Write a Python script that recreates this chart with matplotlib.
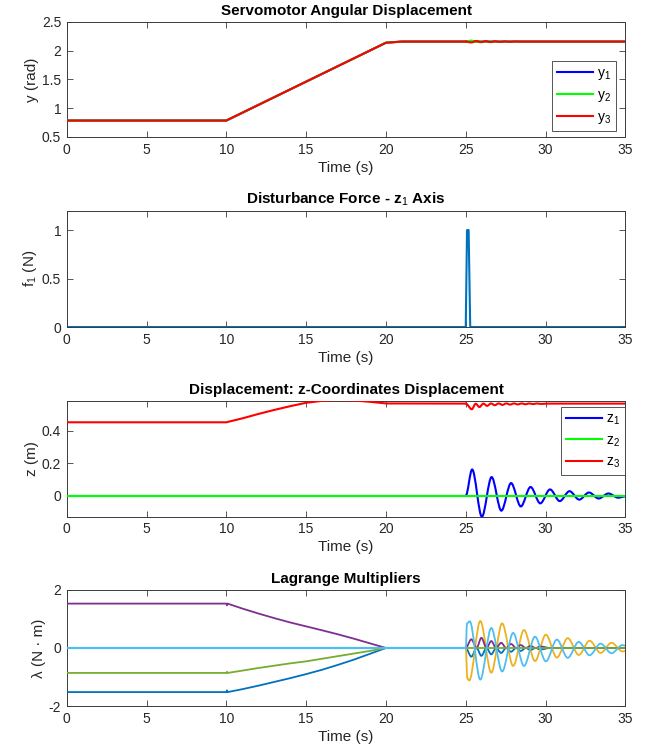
import matplotlib
matplotlib.use("Agg")
import matplotlib.pyplot as plt
from matplotlib.path import Path
from matplotlib.patches import PathPatch
from matplotlib.ticker import FuncFormatter

plt.rcParams['font.family'] = ['Liberation Sans', 'DejaVu Sans']
plt.rcParams['axes.unicode_minus'] = False
plt.rcParams['mathtext.fontset'] = 'custom'
plt.rcParams['mathtext.rm'] = 'Liberation Sans'
plt.rcParams['mathtext.it'] = 'Liberation Sans'
plt.rcParams['mathtext.bf'] = 'Liberation Sans:bold'

# ---------------- data ----------------
# Panel 1: servomotor angles (piecewise points)
y_t = [0, 10, 20, 21, 25, 35]
y1_v = [0.785, 0.785, 2.135, 2.155, 2.155, 2.155]
y2_v = [0.785, 0.785, 2.135, 2.155, 2.155, 2.155]
y3_v = [0.785, 0.785, 2.135, 2.155, 2.155, 2.155]
# small ripple of y2 / y3 after the disturbance (extrema)
y2_osc_t = [25.0, 25.35, 25.65, 26.0]
y2_osc_v = [2.155, 2.172, 2.150, 2.155]
y3_osc_t = [25.0, 25.35, 25.65, 25.95, 26.25, 26.55, 26.85, 27.15, 27.45, 27.75, 28.05, 28.5, 35.0]
y3_osc_v = [2.155, 2.140, 2.165, 2.145, 2.163, 2.147, 2.161, 2.149, 2.159, 2.151, 2.157, 2.155, 2.155]

# Panel 2: disturbance force
f_t = [0, 25.0, 25.08, 25.18, 25.28, 35]
f_v = [0, 0, 1.0, 1.0, 0, 0]

# Panel 3: z coordinates
z_flat_t = [0, 25.0]
z1_flat_v = [0.0, 0.0]
z1_osc_t = [25.0, 25.40, 26.01, 26.62, 27.23, 27.84, 28.45, 29.06, 29.67, 30.28,
            30.89, 31.50, 32.11, 32.72, 33.33, 33.94, 34.55, 35.0]
z1_osc_v = [0.0, 0.162, -0.129, 0.115, -0.092, 0.078, -0.066, 0.054, -0.047, 0.039,
            -0.033, 0.028, -0.024, 0.020, -0.017, 0.014, -0.012, -0.004]
z2_t = [0, 35]
z2_v = [0.0, 0.0]
z3_t = [0, 10, 11, 12, 13, 14, 15, 16, 17, 18, 19, 20, 25.0]
z3_v = [0.452, 0.452, 0.476, 0.503, 0.528, 0.551, 0.572, 0.584, 0.589, 0.586, 0.578, 0.568, 0.567]
z3_osc_t = [25.0, 25.38, 25.62, 25.86, 26.1, 26.34, 26.58, 26.82, 27.06, 27.3, 27.54, 27.78,
            28.02, 28.26, 28.5, 28.74, 28.98, 29.22, 29.46, 29.7, 30.2, 35.0]
z3_osc_v = [0.567, 0.532, 0.566, 0.546, 0.567, 0.553, 0.568, 0.557, 0.568, 0.559, 0.568, 0.561,
            0.568, 0.562, 0.568, 0.563, 0.568, 0.564, 0.568, 0.565, 0.567, 0.567]

# Panel 4: Lagrange multipliers
lam_t = [0, 10, 10.04, 10.08, 11, 12, 13, 14, 15, 16, 17, 18, 19, 20, 25.0]
lam1_v = [-1.52, -1.52, -1.46, -1.52, -1.42, -1.30, -1.17, -1.04, -0.90, -0.75, -0.58, -0.40, -0.20, 0.0, 0.0]
lam4_v = [1.53, 1.53, 1.47, 1.53, 1.36, 1.19, 1.03, 0.88, 0.745, 0.61, 0.47, 0.32, 0.16, 0.0, 0.0]
lam5_v = [-0.86, -0.86, -0.82, -0.86, -0.78, -0.69, -0.61, -0.53, -0.46, -0.37, -0.28, -0.19, -0.10, 0.0, 0.0]
lam_zero_t = [0, 25.0]
lam_zero_v = [0.0, 0.0]
# oscillations after t = 25 s (extrema)
lam1_osc_t = [25.0, 25.35, 25.68, 25.98, 26.3, 26.6, 26.9, 27.22, 27.53, 27.84, 28.15, 28.45,
              28.76, 29.06, 29.37, 29.67, 30.3, 35.0]
lam1_osc_v = [0.0, -0.30, 0.0, -0.27, 0.0, -0.22, 0.0, -0.17, 0.0, -0.13, 0.0, -0.10,
              0.0, -0.07, 0.0, -0.05, 0.0, 0.0]
lam4_osc_t = lam1_osc_t
lam4_osc_v = [0.0, 0.30, 0.0, 0.35, 0.0, 0.24, 0.0, 0.18, 0.0, 0.14, 0.0, 0.10,
              0.0, 0.07, 0.0, 0.05, 0.0, 0.0]
lam5_osc_t = [25.0, 35.0]
lam5_osc_v = [0.0, 0.0]
lam3_osc_t = [25.0, 25.1, 25.22, 25.91, 26.6, 27.28, 27.97, 28.65, 29.34, 30.02, 30.71,
              31.39, 32.08, 32.76, 33.45, 34.13, 34.82, 35.0]
lam3_osc_v = [0.0, -1.05, -1.12, 0.93, -0.85, 0.85, -0.62, 0.62, -0.45, 0.46, -0.33,
              0.34, -0.24, 0.25, -0.17, 0.18, -0.12, -0.10]
lam6_osc_t = [25.0, 25.08, 25.25, 25.91, 26.6, 27.28, 27.97, 28.65, 29.34, 30.02, 30.71,
              31.39, 32.08, 32.76, 33.45, 34.13, 34.82, 35.0]
lam6_osc_v = [0.0, 0.85, 0.92, -1.09, 0.69, -0.81, 0.52, -0.62, 0.39, -0.46, 0.29,
              -0.34, 0.21, -0.25, 0.15, -0.18, 0.10, 0.08]

# ---------------- styling ----------------
C_BLUE = (0.0, 0.447, 0.741)
C_ORANGE = (0.85, 0.325, 0.098)
C_YELLOW = (0.929, 0.694, 0.125)
C_PURPLE = (0.494, 0.184, 0.556)
C_GREEN = (0.466, 0.674, 0.188)
C_LBLUE = (0.301, 0.745, 0.933)
AX_COL = '#3a3a3a'

def smooth(ax, t, v, color, lw, z):
    verts = [(t[0], v[0])]
    codes = [Path.MOVETO]
    for i in range(len(t) - 1):
        dt = t[i + 1] - t[i]
        verts += [(t[i] + dt / 3.0, v[i]), (t[i + 1] - dt / 3.0, v[i + 1]), (t[i + 1], v[i + 1])]
        codes += [Path.CURVE4] * 3
    ax.add_patch(PathPatch(Path(verts, codes), fill=False, edgecolor=color, lw=lw,
                           zorder=z, capstyle='round', joinstyle='round'))

fmt = FuncFormatter(lambda x, p: '{:g}'.format(round(x, 6)))

def style(ax, title, ylabel, ylim, yticks):
    ax.set_xlim(0, 35)
    ax.set_ylim(*ylim)
    ax.set_xticks(range(0, 36, 5))
    ax.set_yticks(yticks)
    ax.xaxis.set_major_formatter(fmt)
    ax.yaxis.set_major_formatter(fmt)
    ax.tick_params(direction='in', length=4, width=0.6, color=AX_COL, labelsize=10,
                   labelcolor='#262626', top=True, right=True, pad=4)
    for s in ax.spines.values():
        s.set_color(AX_COL)
        s.set_linewidth(0.7)
    ax.set_title(title, fontsize=11, fontweight='bold', color='black', pad=5)
    ax.set_xlabel('Time (s)', fontsize=11, color='#262626', labelpad=3)
    ax.set_ylabel(ylabel, fontsize=11, color='#262626', labelpad=2)

fig = plt.figure(figsize=(6.58, 7.53), dpi=100)
L, W = 0.1014, 0.849
ax1 = fig.add_axes([L, 0.8181, W, 0.1531])
ax2 = fig.add_axes([L, 0.5657, W, 0.1545])
ax3 = fig.add_axes([L, 0.3138, W, 0.1541])
ax4 = fig.add_axes([L, 0.0624, W, 0.1541])

# Panel 1
l1, = ax1.plot(y_t, y1_v, color=(0, 0, 1), lw=1.5, label='y$_1$', zorder=3)
l2, = ax1.plot(y_t, y2_v, color=(0, 1, 0), lw=1.5, label='y$_2$', zorder=4)
smooth(ax1, y2_osc_t, y2_osc_v, (0, 1, 0), 1.5, 4)
l3, = ax1.plot(y_t[:5], y3_v[:5], color=(1, 0, 0), lw=1.5, label='y$_3$', zorder=5)
smooth(ax1, y3_osc_t, y3_osc_v, (1, 0, 0), 1.5, 5)
style(ax1, 'Servomotor Angular Displacement', 'y (rad)', (0.5, 2.5), [0.5, 1, 1.5, 2, 2.5])
leg1 = ax1.legend(handles=[l1, l2, l3], loc='lower right', bbox_to_anchor=(0.983, 0.052),
                  fontsize=10, handlelength=2.6, handletextpad=0.3, labelspacing=0.45,
                  borderpad=0.35, borderaxespad=0, fancybox=False, framealpha=1,
                  edgecolor=AX_COL)
leg1.get_frame().set_linewidth(0.6)

# Panel 2
ax2.plot(f_t, f_v, color=C_BLUE, lw=1.5)
style(ax2, 'Disturbance Force - z$_1$ Axis', 'f$_1$ (N)', (0, 1.2), [0, 0.5, 1])

# Panel 3
h1, = ax3.plot(z_flat_t, z1_flat_v, color=(0, 0, 1), lw=1.5, label='z$_1$', zorder=3)
smooth(ax3, z1_osc_t, z1_osc_v, (0, 0, 1), 1.5, 3)
h2, = ax3.plot(z2_t, z2_v, color=(0, 1, 0), lw=1.5, label='z$_2$', zorder=4)
h3, = ax3.plot(z3_t, z3_v, color=(1, 0, 0), lw=1.5, label='z$_3$', zorder=5)
smooth(ax3, z3_osc_t, z3_osc_v, (1, 0, 0), 1.5, 5)
style(ax3, 'Displacement: z-Coordinates Displacement', 'z (m)', (-0.129, 0.585), [0, 0.2, 0.4])
leg3 = ax3.legend(handles=[h1, h2, h3], loc='upper right', bbox_to_anchor=(0.999, 0.948),
                  fontsize=10, handlelength=2.6, handletextpad=0.3, labelspacing=0.45,
                  borderpad=0.35, borderaxespad=0, fancybox=False, framealpha=1,
                  edgecolor=AX_COL)
leg3.get_frame().set_linewidth(0.6)

# Panel 4
LW4 = 1.3
ax4.plot(lam_t, lam1_v, color=C_BLUE, lw=LW4, zorder=3)
smooth(ax4, lam1_osc_t, lam1_osc_v, C_BLUE, LW4, 3)
ax4.plot(lam_zero_t, lam_zero_v, color=C_ORANGE, lw=LW4, zorder=3)
ax4.plot(lam_zero_t, lam_zero_v, color=C_YELLOW, lw=LW4, zorder=3)
smooth(ax4, lam3_osc_t, lam3_osc_v, C_YELLOW, LW4, 3)
ax4.plot(lam_t, lam4_v, color=C_PURPLE, lw=LW4, zorder=3)
smooth(ax4, lam4_osc_t, lam4_osc_v, C_PURPLE, LW4, 3)
ax4.plot(lam_t, lam5_v, color=C_GREEN, lw=LW4, zorder=3)
ax4.plot(lam5_osc_t, lam5_osc_v, color=C_GREEN, lw=LW4, zorder=3)
ax4.plot(lam_zero_t, lam_zero_v, color=C_LBLUE, lw=LW4 + 0.3, zorder=3)
smooth(ax4, lam6_osc_t, lam6_osc_v, C_LBLUE, LW4, 3)
style(ax4, 'Lagrange Multipliers', 'λ (N · m)', (-2, 2), [-2, 0, 2])

fig.savefig('out.png', dpi=100)
